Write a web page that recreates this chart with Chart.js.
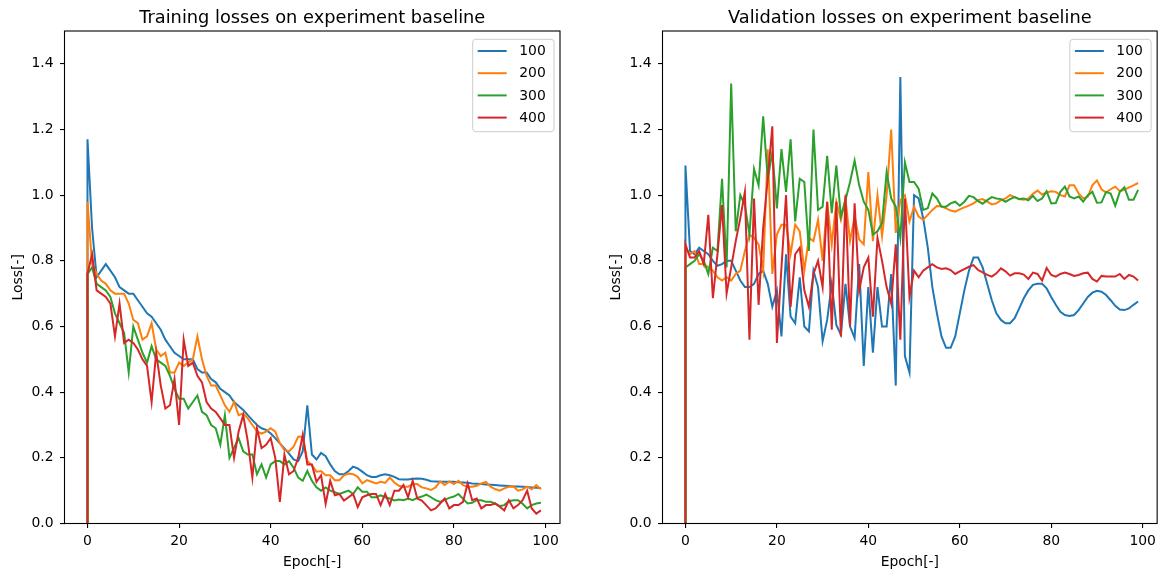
<!DOCTYPE html>
<html>
<head>
<meta charset="utf-8">
<script src="https://cdn.jsdelivr.net/npm/chart.js@4"></script>
<style>
html,body{margin:0;padding:0;background:#fff;width:1161px;height:574px;overflow:hidden}
canvas{position:absolute;top:0}
#trainChart{left:0}
#valChart{left:580px}
</style>
</head>
<body>
<canvas id="trainChart" width="580" height="574"></canvas>
<canvas id="valChart" width="581" height="574"></canvas>
<script>
// ---------- data ----------
const epochs = Array.from({length: 100}, (_, i) => i);
const seriesLabels = ['100', '200', '300', '400'];
const startLoss = 0;

const train100 = [1.17,0.90,0.75,0.77,0.79,0.77,0.75,0.72,0.71,0.70,
 0.70,0.68,0.66,0.64,0.63,0.61,0.59,0.56,0.54,0.52,
 0.51,0.50,0.50,0.50,0.47,0.46,0.46,0.44,0.43,0.41,
 0.40,0.39,0.37,0.358,0.346,0.33,0.315,0.30,0.29,0.285,
 0.274,0.26,0.244,0.229,0.213,0.195,0.19,0.22,0.36,0.21,
 0.195,0.215,0.205,0.18,0.16,0.15,0.15,0.16,0.173,0.168,
 0.158,0.147,0.142,0.142,0.147,0.15,0.147,0.142,0.135,0.134,
 0.134,0.136,0.137,0.136,0.133,0.129,0.128,0.127,0.127,0.127,
 0.127,0.126,0.125,0.124,0.122,0.121,0.120,0.119,0.118,0.117,
 0.116,0.115,0.114,0.113,0.113,0.112,0.111,0.110,0.109,0.108];
const train200 = [0.98,0.79,0.76,0.74,0.73,0.71,0.70,0.70,0.70,0.67,
 0.62,0.61,0.56,0.57,0.61,0.53,0.51,0.52,0.46,0.46,
 0.49,0.48,0.49,0.50,0.57,0.50,0.45,0.42,0.42,0.39,
 0.36,0.34,0.37,0.33,0.335,0.32,0.30,0.28,0.274,0.28,
 0.29,0.28,0.244,0.224,0.22,0.234,0.264,0.264,0.19,0.178,
 0.158,0.16,0.147,0.147,0.132,0.132,0.147,0.152,0.15,0.142,
 0.122,0.132,0.127,0.122,0.127,0.124,0.14,0.125,0.115,0.112,
 0.112,0.12,0.12,0.11,0.107,0.102,0.11,0.128,0.117,0.128,
 0.12,0.13,0.117,0.112,0.112,0.115,0.122,0.127,0.112,0.105,
 0.10,0.107,0.112,0.113,0.10,0.104,0.112,0.104,0.117,0.104];
const train300 = [0.76,0.78,0.73,0.72,0.71,0.69,0.64,0.61,0.58,0.46,
 0.60,0.56,0.52,0.49,0.54,0.50,0.49,0.48,0.45,0.41,
 0.38,0.38,0.35,0.37,0.39,0.34,0.33,0.30,0.29,0.24,
 0.33,0.20,0.23,0.26,0.22,0.21,0.21,0.15,0.18,0.14,
 0.18,0.19,0.19,0.18,0.19,0.17,0.14,0.13,0.16,0.13,
 0.11,0.10,0.11,0.10,0.095,0.09,0.095,0.10,0.09,0.11,
 0.097,0.097,0.08,0.08,0.086,0.08,0.076,0.07,0.073,0.071,
 0.076,0.071,0.078,0.082,0.088,0.08,0.071,0.066,0.072,0.078,
 0.082,0.09,0.075,0.061,0.063,0.071,0.071,0.066,0.066,0.061,
 0.053,0.056,0.068,0.071,0.071,0.06,0.046,0.056,0.061,0.063];
const train400 = [0.76,0.82,0.71,0.70,0.69,0.67,0.57,0.67,0.55,0.56,
 0.55,0.53,0.50,0.48,0.37,0.52,0.42,0.35,0.36,0.44,
 0.30,0.56,0.48,0.49,0.45,0.43,0.37,0.35,0.34,0.32,
 0.30,0.30,0.20,0.28,0.33,0.25,0.14,0.29,0.23,0.24,
 0.26,0.20,0.066,0.21,0.15,0.16,0.20,0.27,0.18,0.18,
 0.127,0.147,0.06,0.13,0.086,0.09,0.07,0.08,0.09,0.05,
 0.08,0.086,0.09,0.09,0.056,0.09,0.056,0.10,0.10,0.117,
 0.08,0.13,0.076,0.07,0.055,0.04,0.046,0.061,0.076,0.046,
 0.056,0.056,0.066,0.122,0.071,0.076,0.046,0.056,0.056,0.061,
 0.051,0.04,0.071,0.046,0.056,0.071,0.10,0.046,0.03,0.04];

const val100 = [1.09,0.83,0.82,0.84,0.83,0.82,0.80,0.785,0.79,0.80,
 0.80,0.77,0.74,0.72,0.72,0.73,0.76,0.77,0.73,0.66,
 0.71,0.57,0.82,0.63,0.61,0.75,0.60,0.585,0.77,0.72,
 0.555,0.62,0.73,0.605,0.575,0.73,0.60,0.565,0.79,0.48,
 0.72,0.52,0.72,0.60,0.60,0.76,0.42,1.36,0.51,0.46,
 1.0,0.99,0.93,0.84,0.72,0.64,0.57,0.535,0.535,0.57,
 0.64,0.71,0.77,0.81,0.81,0.78,0.73,0.68,0.64,0.62,
 0.61,0.61,0.625,0.655,0.686,0.71,0.727,0.73,0.73,0.716,
 0.69,0.666,0.645,0.635,0.632,0.635,0.65,0.67,0.69,0.703,
 0.709,0.706,0.696,0.68,0.663,0.652,0.65,0.655,0.666,0.676];
const val200 = [0.84,0.82,0.83,0.79,0.79,0.78,0.77,0.75,0.74,0.75,
 0.74,0.76,0.77,0.83,0.88,0.87,0.85,0.77,1.14,0.76,
 0.88,0.91,0.91,0.82,0.91,0.89,0.77,0.87,0.86,0.925,
 0.80,0.98,0.85,0.98,0.925,0.99,0.86,0.935,0.865,0.85,
 1.07,0.86,1.0,0.875,1.0,1.20,0.885,0.985,1.0,0.92,
 0.965,0.935,0.925,0.94,0.955,0.967,0.966,0.96,0.953,0.95,
 0.957,0.963,0.968,0.975,0.985,0.988,0.98,0.972,0.975,0.985,
 0.99,1.0,0.994,0.988,0.986,0.99,1.004,1.014,1.002,1.008,
 1.012,1.01,1.0,0.996,1.03,1.03,1.005,0.99,0.995,1.03,
 1.045,1.018,1.008,1.018,1.026,1.012,1.016,1.024,1.03,1.037];
const val300 = [0.78,0.79,0.80,0.82,0.80,0.76,0.84,0.83,1.05,0.78,
 1.34,0.89,1.0,0.97,0.88,1.08,1.03,1.24,1.05,1.13,
 0.96,1.14,1.01,1.17,0.92,1.05,1.04,0.83,1.20,0.955,
 0.965,1.12,0.945,1.09,0.935,0.985,1.04,1.105,1.03,0.98,
 0.955,0.88,0.89,0.915,1.07,0.99,0.965,0.87,1.10,1.04,
 1.04,1.02,0.955,0.96,1.005,0.99,0.965,0.965,0.975,0.98,
 0.968,0.98,0.998,0.994,0.982,0.974,0.985,0.994,0.99,0.988,
 0.98,0.988,0.994,0.988,0.99,0.984,0.998,0.982,0.99,1.012,
 0.975,0.976,1.01,1.026,0.996,0.99,0.996,0.98,1.0,1.01,
 0.977,0.978,1.01,1.005,0.968,1.01,1.024,0.986,0.986,1.016];
const val400 = [0.85,0.81,0.81,0.83,0.79,0.94,0.686,0.82,0.97,0.70,
 0.78,0.86,0.93,1.01,0.56,0.99,0.666,0.90,1.05,1.21,
 0.55,0.78,1.0,0.66,0.82,0.84,0.71,0.66,0.76,0.80,
 0.72,0.98,0.59,0.98,0.57,1.0,0.60,0.975,0.71,0.78,
 0.81,0.63,0.87,0.80,0.72,0.67,0.85,0.56,0.99,0.69,
 0.77,0.75,0.77,0.78,0.79,0.78,0.775,0.777,0.772,0.76,
 0.768,0.775,0.782,0.787,0.772,0.765,0.757,0.752,0.762,0.777,
 0.768,0.755,0.762,0.762,0.758,0.745,0.764,0.76,0.74,0.778,
 0.757,0.752,0.76,0.764,0.76,0.754,0.757,0.762,0.764,0.745,
 0.737,0.754,0.752,0.752,0.752,0.76,0.745,0.757,0.752,0.74];

const xTickValues = [0, 20, 40, 60, 80, 100];
const xTickLabels = ['0', '20', '40', '60', '80', '100'];
const yTickValues = [0, 0.2, 0.4, 0.6, 0.8, 1.0, 1.2, 1.4];
const yTickLabels = ['0.0', '0.2', '0.4', '0.6', '0.8', '1.0', '1.2', '1.4'];

const trainTitle = 'Training losses on experiment baseline';
const valTitle = 'Validation losses on experiment baseline';
const xAxisLabel = 'Epoch[-]';
const yAxisLabel = 'Loss[-]';

// ---------- style ----------
const seriesColors = ['#1f77b4', '#ff7f0e', '#2ca02c', '#d62728'];
const FONT = '"DejaVu Sans", "Liberation Sans", sans-serif';
const TICK_SIZE = 13.9;
const TITLE_SIZE = 17.8;
const X_MIN = -5.02, X_MAX = 103.17, Y_MIN = 0, Y_MAX = 1.5;

const decorPlugin = {
  id: 'decor',
  afterDraw(chart, args, opts) {
    const ctx = chart.ctx, a = chart.chartArea;
    const cx = (a.left + a.right) / 2;
    ctx.save();
    // axes box
    ctx.strokeStyle = '#000';
    ctx.lineWidth = 1.1;
    ctx.strokeRect(a.left, a.top, a.right - a.left, a.bottom - a.top);
    // title
    ctx.fillStyle = '#000';
    ctx.font = TITLE_SIZE + 'px ' + FONT;
    ctx.textAlign = 'center';
    ctx.textBaseline = 'alphabetic';
    ctx.fillText(opts.title, cx, a.top - 7.7);
    // x label
    ctx.font = TICK_SIZE + 'px ' + FONT;
    ctx.textBaseline = 'middle';
    ctx.fillText(opts.xLabel, cx, a.bottom + 39);
    // y label
    ctx.save();
    ctx.translate(a.left - 46.5, (a.top + a.bottom) / 2);
    ctx.rotate(-Math.PI / 2);
    ctx.fillText(opts.yLabel, 0, 0);
    ctx.restore();
    // legend
    const w = 81.3, h = 92.4;
    const lx = a.right - 6 - w, ly = a.top + 8.3;
    ctx.beginPath();
    if (ctx.roundRect) ctx.roundRect(lx, ly, w, h, 3); else ctx.rect(lx, ly, w, h);
    ctx.fillStyle = 'rgba(255,255,255,0.8)';
    ctx.fill();
    ctx.strokeStyle = '#cccccc';
    ctx.lineWidth = 1;
    ctx.stroke();
    ctx.textAlign = 'left';
    ctx.textBaseline = 'middle';
    chart.data.datasets.forEach((ds, i) => {
      const cy = ly + 11.7 + i * 22.2;
      ctx.strokeStyle = ds.borderColor;
      ctx.lineWidth = 2;
      ctx.beginPath();
      ctx.moveTo(lx + 5, cy);
      ctx.lineTo(lx + 34, cy);
      ctx.stroke();
      ctx.fillStyle = '#000';
      ctx.fillText(ds.label, lx + 46.5, cy + 0.5);
    });
    ctx.restore();
  }
};

function makeDatasets(seriesList) {
  return seriesList.map((vals, k) => ({
    label: seriesLabels[k],
    data: [{x: epochs[0], y: startLoss}].concat(vals.map((v, i) => ({x: epochs[i], y: v}))),
    borderColor: seriesColors[k],
    backgroundColor: seriesColors[k],
    borderWidth: 2,
    pointRadius: 0,
    pointHoverRadius: 0,
    tension: 0,
    fill: false,
    order: seriesList.length - k
  }));
}

function makeScales(yWidth) {
  return {
    x: {
      type: 'linear', min: X_MIN, max: X_MAX,
      afterBuildTicks: s => { s.ticks = xTickValues.map(v => ({value: v})); },
      afterFit: s => { s.height = 50.5; },
      border: {display: false},
      grid: {drawOnChartArea: false, drawTicks: true, tickLength: 4.5, color: '#000', lineWidth: 1.1},
      ticks: {color: '#000', font: {family: FONT, size: TICK_SIZE}, padding: 5, maxRotation: 0, autoSkip: false,
        callback: v => xTickLabels[xTickValues.indexOf(v)]}
    },
    y: {
      type: 'linear', min: Y_MIN, max: Y_MAX,
      afterBuildTicks: s => { s.ticks = yTickValues.map(v => ({value: v})); },
      afterFit: s => { s.width = yWidth; },
      border: {display: false},
      grid: {drawOnChartArea: false, drawTicks: true, tickLength: 4.5, color: '#000', lineWidth: 1.1},
      ticks: {color: '#000', font: {family: FONT, size: TICK_SIZE}, padding: 6.5, autoSkip: false,
        callback: (v, i) => yTickLabels[i]}
    }
  };
}

function makeChart(id, title, seriesList, yWidth, padRight) {
  return new Chart(document.getElementById(id), {
    type: 'line',
    data: {datasets: makeDatasets(seriesList)},
    options: {
      responsive: false,
      animation: false,
      devicePixelRatio: 1,
      events: [],
      layout: {padding: {left: 0, right: padRight, top: 31, bottom: 0}},
      scales: makeScales(yWidth),
      plugins: {
        legend: {display: false},
        title: {display: false},
        tooltip: {enabled: false},
        decor: {title: title, xLabel: xAxisLabel, yLabel: yAxisLabel}
      }
    },
    plugins: [decorPlugin]
  });
}

makeChart('trainChart', trainTitle, [train100, train200, train300, train400], 64.5, 20);
makeChart('valChart', valTitle, [val100, val200, val300, val400], 82.5, 3);
</script>
</body>
</html>
